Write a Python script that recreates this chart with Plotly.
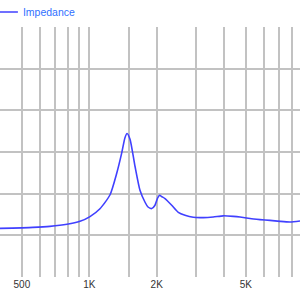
import plotly.graph_objects as go

# Frequency (Hz) and impedance (ohm)
freq_hz = [399, 560, 667, 795, 909, 1007, 1116, 1238, 1326, 1395, 1443, 1474,
           1520, 1600, 1684, 1774, 1829, 1900, 1965, 2017, 2058, 2112, 2178,
           2334, 2497, 2676, 2914, 3229, 3579, 3967, 4397, 4711, 5221, 5786,
           6412, 7106, 7877, 8730]
impedance = [5.84, 5.96, 6.08, 6.32, 6.68, 7.25, 8.19, 9.87, 12.45, 14.86, 16.72, 17.22,
             16.54, 13.29, 10.41, 8.97, 8.40, 8.21, 8.61, 9.45, 9.81, 9.63, 9.41,
             8.61, 7.76, 7.40, 7.16, 7.13, 7.20, 7.34, 7.28, 7.20, 7.01, 6.89,
             6.80, 6.68, 6.60, 6.72]

x_grid = [400, 500, 600, 700, 800, 900, 1000, 1500, 2000, 3000, 4000, 5000,
          6000, 7000, 8000, 9000]
x_labels = ["", "500", "", "", "", "", "1K", "", "2K", "", "", "5K",
            "", "", "", ""]
y_grid = [5, 10, 15, 20, 25, 30]
series_name = "Impedance"

fig = go.Figure()
fig.add_trace(go.Scatter(
    x=freq_hz, y=impedance, mode="lines", name=series_name,
    line=dict(color="#4040ff", width=1.6, shape="spline", smoothing=0.6),
))

fig.update_layout(
    width=300, height=300,
    margin=dict(l=0, r=0, t=27, b=23, pad=0, autoexpand=False),
    paper_bgcolor="white", plot_bgcolor="white",
    font=dict(family="Liberation Sans, Arial, sans-serif", size=10, color="#333"),
    showlegend=True,
    legend=dict(
        x=-0.057, xanchor="left", y=1.06, yanchor="middle",
        orientation="h", bgcolor="rgba(0,0,0,0)", borderwidth=0,
        font=dict(size=10.5, color="#3070ff"),
    ),
)
fig.update_xaxes(
    type="log", range=[2.6012, 3.941],
    tickvals=x_grid, ticktext=x_labels,
    showgrid=True, gridcolor="#c2c2c2", gridwidth=1.5,
    zeroline=False, showline=False, ticks="",
    tickfont=dict(size=10, color="#333"),
)
fig.update_yaxes(
    range=[0, 30], tickvals=y_grid, showticklabels=False,
    showgrid=True, gridcolor="#c2c2c2", gridwidth=1.5,
    zeroline=False, showline=False, ticks="",
)

fig.write_html("out.html")
